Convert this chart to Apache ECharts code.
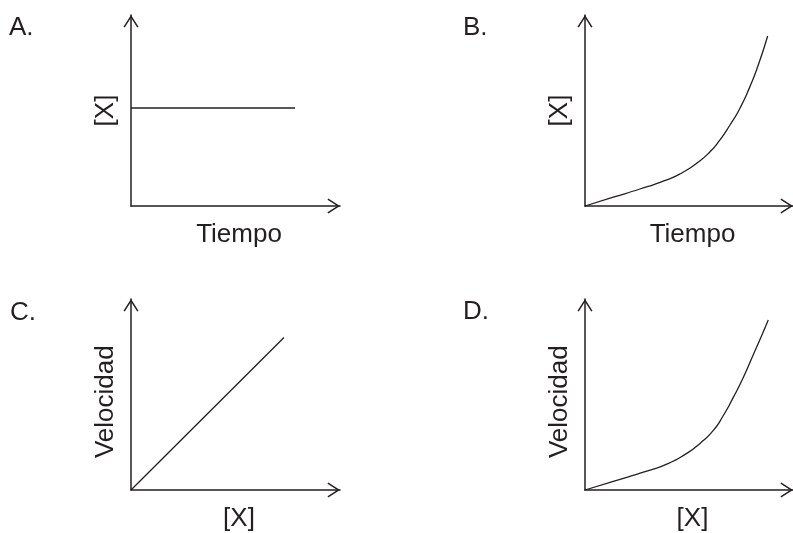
<!DOCTYPE html>
<html>
<head>
<meta charset="utf-8">
<script src="https://cdn.jsdelivr.net/npm/echarts@6/dist/echarts.min.js"></script>
<style>
  html, body { margin: 0; padding: 0; background: #fff; }
  #main { width: 793px; height: 533px; }
</style>
</head>
<body>
<div id="main"></div>
<script>
// panel data, in arbitrary units 0..10 on both axes
var panelLetters = ['A.', 'B.', 'C.', 'D.'];
var xNames = ['Tiempo', 'Tiempo', '[X]', '[X]'];
var yNames = ['[X]', '[X]', 'Velocidad  ', 'Velocidad  ']; // trailing spaces push the word down a bit

var curveA = [[0, 5.13], [7.85, 5.13]];
var curveB = [[0, 0], [1.36, 0.46], [2.64, 0.89], [3.61, 1.24], [4.57, 1.68], [5.37, 2.24],
              [6.01, 2.84], [6.49, 3.46], [6.97, 4.24], [7.45, 5.12], [7.93, 6.25],
              [8.33, 7.38], [8.78, 8.90]];
var curveC = [[0, 0], [7.32, 7.98]];
var curveD = [[0, 0], [1.36, 0.45], [2.97, 0.99], [3.93, 1.35], [4.89, 1.92], [5.53, 2.44],
              [6.17, 3.12], [6.65, 3.90], [7.13, 4.85], [7.61, 5.89], [8.09, 7.08],
              [8.48, 8.05], [8.81, 8.90]];

var ink = '#231f20';
var font = '"Liberation Sans", Arial, sans-serif';
// open chevron pointing up, drawn as a thin filled shape
var chevron = 'path://M0,23.4 L15,0 L30,23.4 L27.47,25.02 L15,5.56 L2.53,25.02 Z';

var grids = [
    {left: 131, top: 15, width: 209, height: 191},
    {left: 585, top: 15, width: 208, height: 191},
    {left: 131, top: 299, width: 209, height: 193},
    {left: 585, top: 299, width: 208, height: 193}
];
var letterPos = [[9, 15], [463, 15], [10, 300], [463, 299]];
var curves = [curveA, curveB, curveC, curveD];

function axisLine() {
    return {
        show: true,
        symbol: ['none', chevron],
        symbolSize: [15, 12.5],
        symbolOffset: [0, -6.25],
        lineStyle: {color: ink, width: 1.5}
    };
}

var option = {
    backgroundColor: '#ffffff',
    animation: false,
    title: [],
    grid: grids,
    xAxis: [],
    yAxis: [],
    series: []
};

for (var i = 0; i < 4; i++) {
    var top = i < 2;
    option.title.push({
        text: panelLetters[i],
        left: letterPos[i][0],
        top: letterPos[i][1],
        padding: 0,
        textStyle: {fontSize: 26, fontWeight: 'normal', color: ink, fontFamily: font}
    });
    option.xAxis.push({
        type: 'value', gridIndex: i, min: 0, max: 10,
        name: xNames[i], nameLocation: 'middle', nameGap: top ? 16 : 14,
        nameTextStyle: {fontSize: 26, color: ink, fontFamily: font,
                        padding: top ? [0, 0, 0, 7] : 0},
        axisLine: axisLine(),
        axisTick: {show: false}, axisLabel: {show: false}, splitLine: {show: false}
    });
    option.yAxis.push({
        type: 'value', gridIndex: i, min: 0, max: 10,
        name: yNames[i], nameLocation: 'middle', nameGap: 12,
        nameRotate: 90,
        nameTextStyle: {fontSize: 26, color: ink, fontFamily: font},
        axisLine: axisLine(),
        axisTick: {show: false}, axisLabel: {show: false}, splitLine: {show: false}
    });
    option.series.push({
        type: 'line', xAxisIndex: i, yAxisIndex: i,
        data: curves[i],
        smooth: (i === 1 || i === 3) ? 0.6 : false,
        showSymbol: false,
        lineStyle: {color: ink, width: 1.3}
    });
}

var chart = echarts.init(document.getElementById('main'));
chart.setOption(option);
</script>
</body>
</html>
